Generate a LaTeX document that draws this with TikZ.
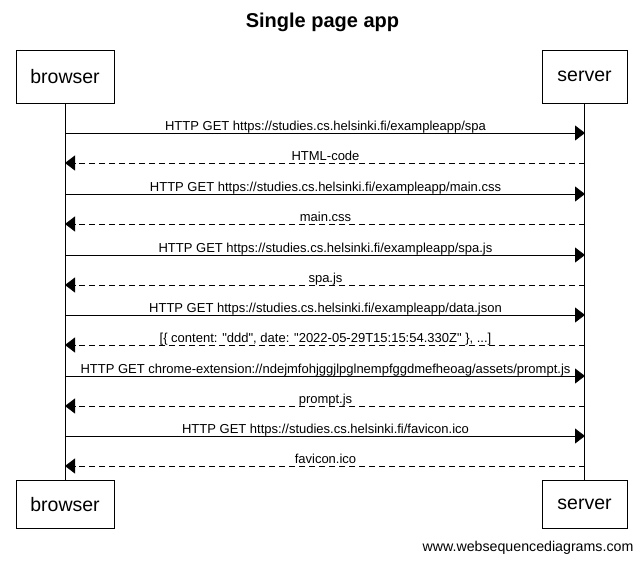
\documentclass[tikz,border=0pt]{standalone}
\usepackage{fontspec}
\setmainfont{Liberation Sans}[Ligatures=TeXOff]
\usetikzlibrary{arrows.meta}
\begin{document}
\begin{tikzpicture}[x=1pt,y=-1pt,
  actor/.style={draw, line width=0.8pt, inner sep=0pt, minimum height=53pt, font=\fontsize{19.5}{23}\selectfont},
  msg/.style={line width=0.8pt, -{Triangle[length=10pt,width=15pt]}},
  reply/.style={msg, dash pattern=on 6pt off 4pt},
  lbl/.style={font=\fontsize{13}{15}\selectfont, inner sep=0pt, anchor=base},
  life/.style={line width=0.8pt}]
\useasboundingbox (0,0) rectangle (643,563);
\node[font=\bfseries\fontsize{20}{24}\selectfont] (title) at (322.5,22) {Single page app};
\node[actor, minimum width=98pt] (bt) at (65,76.5) {browser};
\node[actor, minimum width=85pt] (st) at (584.5,76.5) {server};
\node[actor, minimum width=98pt, minimum height=48pt] (bb) at (65,504.5) {browser};
\node[actor, minimum width=85pt, minimum height=48pt] (sb) at (584.5,504.5) {server};
\draw[life] (bt.south) -- (bb.north);
\draw[life] (st.south) -- (sb.north);
\node[font=\fontsize{14.2}{17}\selectfont] (foot) at (528,548) {www.websequencediagrams.com};
\foreach \i/\y/\t/\s in {
 1/133/{HTTP GET https://studies.cs.helsinki.fi/exampleapp/spa}/msg,
 2/163/{HTML-code}/reply,
 3/194/{HTTP GET https://studies.cs.helsinki.fi/exampleapp/main.css}/msg,
 4/224/{main.css}/reply,
 5/255/{HTTP GET https://studies.cs.helsinki.fi/exampleapp/spa.js}/msg,
 6/285/{spa.js}/reply,
 7/315/{HTTP GET https://studies.cs.helsinki.fi/exampleapp/data.json}/msg,
 8/345/{[\{ content: "ddd", date: "2022-05-29T15:15:54.330Z" \}, ...]}/reply,
 9/376/{HTTP GET chrome-extension://ndejmfohjggjlpglnempfggdmefheoag/assets/prompt.js}/msg,
 10/406/{prompt.js}/reply,
 11/436/{HTTP GET https://studies.cs.helsinki.fi/favicon.ico}/msg,
 12/466/{favicon.ico}/reply}{
  \coordinate (b\i) at (65,\y);
  \coordinate (s\i) at (585,\y);
  \ifodd\i
    \draw[\s] (b\i) -- (s\i);
  \else
    \draw[\s] (s\i) -- (b\i);
  \fi
  \node[lbl] (l\i) at (325.5,\y-3) {\t};
}
\end{tikzpicture}
\end{document}
